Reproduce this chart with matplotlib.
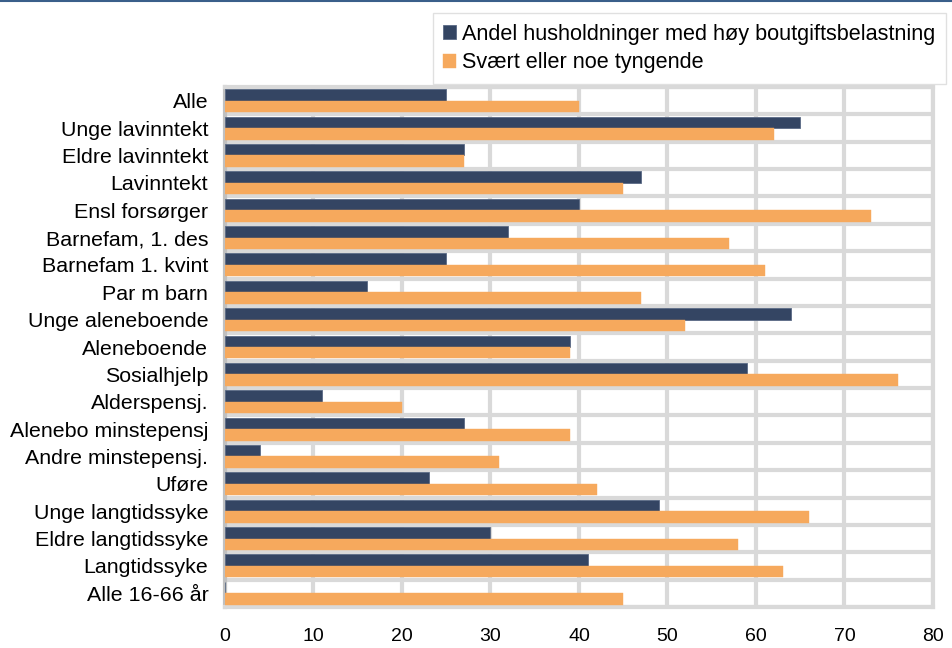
import matplotlib.pyplot as plt
import numpy as np

plt.rcParams['font.family'] = ['Liberation Sans', 'DejaVu Sans']

# Data
kategorier = ['Alle', 'Unge lavinntekt', 'Eldre lavinntekt', 'Lavinntekt',
              'Ensl forsørger', 'Barnefam, 1. des', 'Barnefam 1. kvint',
              'Par m barn', 'Unge aleneboende', 'Aleneboende', 'Sosialhjelp',
              'Alderspensj.', 'Alenebo minstepensj', 'Andre minstepensj.',
              'Uføre', 'Unge langtidssyke', 'Eldre langtidssyke',
              'Langtidssyke', 'Alle 16-66 år']
hoy_belastning = [25, 65, 27, 47, 40, 32, 25, 16, 64, 39, 59, 11, 27, 4,
                  23, 49, 30, 41, 0]
tyngende = [40, 62, 27, 45, 73, 57, 61, 47, 52, 39, 76, 20, 39, 31,
            42, 66, 58, 63, 45]
xticks = [0, 10, 20, 30, 40, 50, 60, 70, 80]

mork = '#344563'
oransje = '#f6a95d'
gra = '#d9d9d9'

fig = plt.figure(figsize=(9.53, 6.48), dpi=100)
ax = fig.add_axes([225/953, 41/648, (933-225)/953, (607-87)/648])

y = np.arange(len(kategorier))
h = 0.42
ax.barh(y - h/2, hoy_belastning, height=h, color=mork, edgecolor='#5a6a85',
        linewidth=0.6, label='Andel husholdninger med høy boutgiftsbelastning', zorder=3)
ax.barh(y + h/2, tyngende, height=h, color=oransje, edgecolor=oransje,
        linewidth=0.3, label='Svært eller noe tyngende', zorder=3)

ax.set_xlim(0, 80)
ax.set_ylim(len(kategorier) - 0.5, -0.5)
ax.set_xticks(xticks)
ax.set_yticks(y)
ax.set_yticklabels(kategorier)
ax.set_yticks(np.arange(-0.5, len(kategorier)), minor=True)
ax.tick_params(axis='both', which='both', length=0)
ax.tick_params(axis='y', pad=12, labelsize=15.4)
ax.tick_params(axis='x', pad=15, labelsize=14)

ax.grid(True, axis='x', which='major', color=gra, linewidth=3, zorder=0)
ax.grid(True, axis='y', which='minor', color=gra, linewidth=3, zorder=0)
for s in ax.spines.values():
    s.set_color(gra)
    s.set_linewidth(3)
ax.spines['left'].set_color('#c0c0c0')

fig.legend(loc='upper right', bbox_to_anchor=(946/953, 1 - 13/648),
           fontsize=15.6, frameon=True, fancybox=False, edgecolor=gra,
           handlelength=0.6, handleheight=0.6, handletextpad=0.25,
           borderpad=0.5, labelspacing=0.35, borderaxespad=0)

# blue line at top
fig.add_artist(plt.Line2D([0, 1], [0.998, 0.998], color='#3a5f8a', linewidth=1.5))

fig.savefig('out.png', dpi=100)
